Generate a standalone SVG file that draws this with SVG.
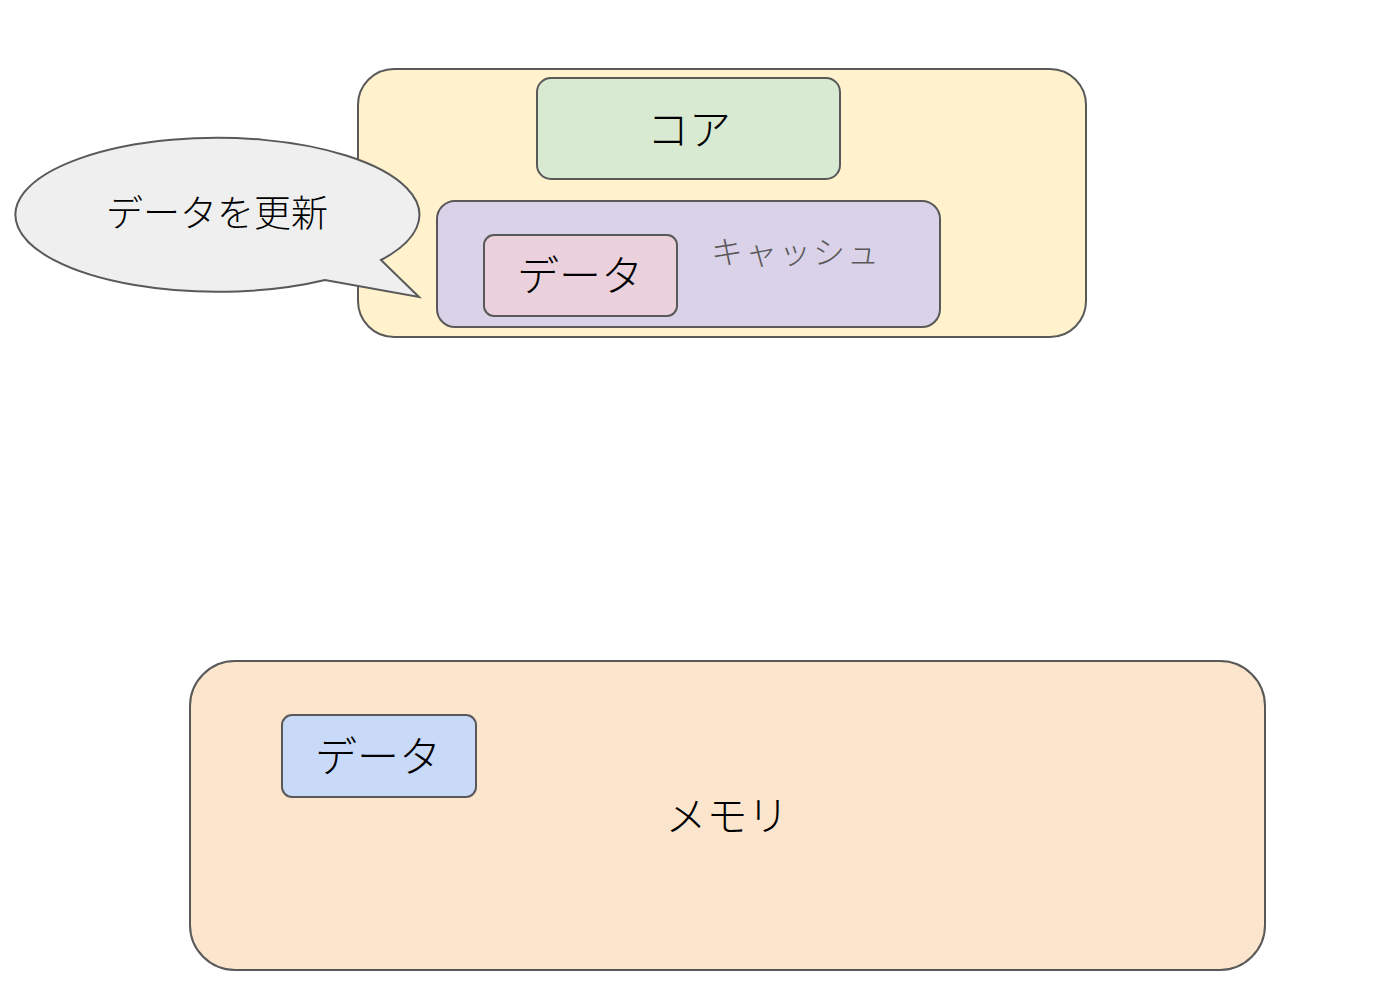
<svg xmlns="http://www.w3.org/2000/svg" width="1400" height="989" viewBox="0 0 1400 989">
<style>
.box{stroke:#595959;stroke-width:2}
.t{font-family:"Noto Sans CJK JP","Noto Sans",sans-serif;font-weight:300;fill:#000;text-anchor:middle;dominant-baseline:central}
</style>
<rect width="1400" height="989" fill="#fff"/>
<g id="cpu">
<rect class="box" x="358" y="69" width="728" height="268" rx="36" fill="#fff2cc"/>
</g>
<g id="core">
<rect class="box" x="537" y="78" width="303" height="101" rx="14" fill="#d9ead3"/>
<text class="t" x="689" y="126" font-size="42">コア</text>
</g>
<g id="cache">
<rect class="box" x="437" y="201" width="503" height="126" rx="18" fill="#d9d2e9"/>
<text class="t" x="796" y="250" font-size="32" style="fill:#595959" letter-spacing="2">キャッシュ</text>
</g>
<g id="cache-data">
<rect class="box" x="484" y="235" width="193" height="81" rx="10" fill="#ead1dc"/>
<text class="t" x="580" y="272" font-size="42">データ</text>
</g>
<g id="bubble">
<path class="box" d="M 325 280 A 202 77 0 1 1 381 260 L 419 297 Z" fill="#efefef"/>
<text class="t" x="217" y="211" font-size="37">データを更新</text>
</g>
<g id="memory">
<rect class="box" x="190" y="661" width="1075" height="309" rx="45" fill="#fce5cd"/>
<text class="t" x="727" y="813" font-size="41">メモリ</text>
</g>
<g id="memory-data">
<rect class="box" x="282" y="715" width="194" height="82" rx="10" fill="#c9daf8"/>
<text class="t" x="378" y="753" font-size="42">データ</text>
</g>
<g id="connectors"></g>
</svg>
